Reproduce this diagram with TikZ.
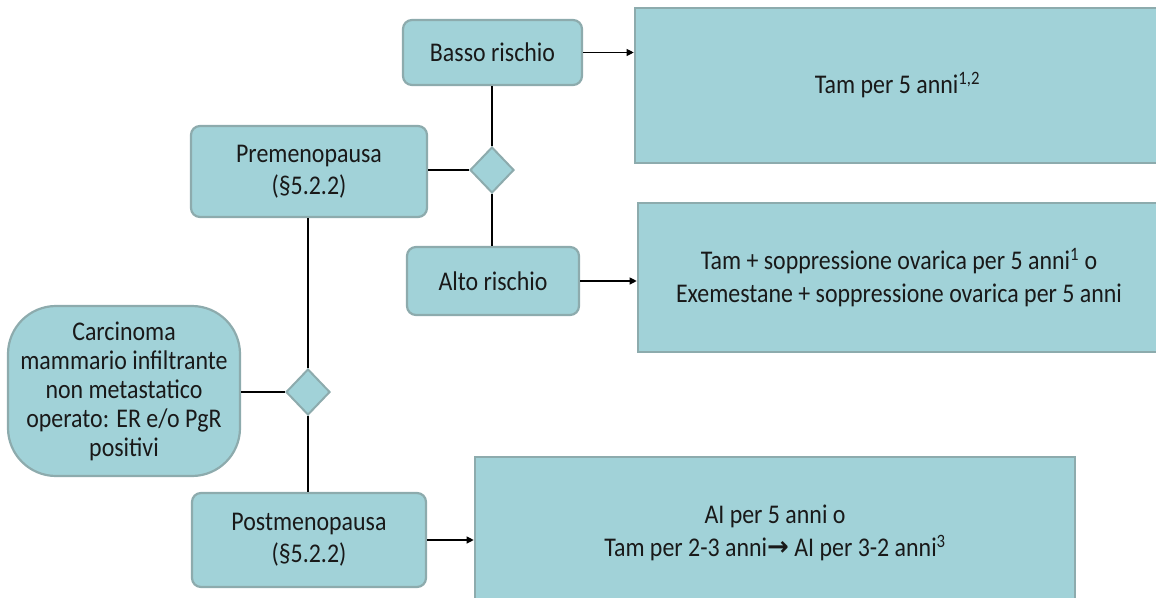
\documentclass[tikz,border=0pt]{standalone}
\usepackage{fontspec}
\setmainfont{Carlito}[FakeStretch=0.885]
\newfontfamily\dejavu{DejaVu Sans}
\usetikzlibrary{shapes.geometric,arrows.meta}
\definecolor{boxfill}{RGB}{161,210,216}
\definecolor{boxline}{RGB}{141,171,173}
\definecolor{txt}{RGB}{25,25,25}
\tikzset{
  rbox/.style={draw=boxline, fill=boxfill, line width=2.2pt, rounded corners=9pt, align=center, inner sep=0pt, text=txt, font=\fontsize{27}{32}\selectfont},
  bigbox/.style={draw=boxline, fill=boxfill, line width=2.6pt, align=center, inner sep=0pt, text=txt, font=\fontsize{27}{33}\selectfont},
  dec/.style={diamond, draw=boxline, fill=boxfill, line width=2pt, inner sep=0pt, minimum width=44pt, minimum height=46pt},
  conn/.style={line width=1.1pt, black},
  arr/.style={conn, -{Triangle[length=7pt,width=7pt]}}
}
\begin{document}
\begin{tikzpicture}[x=1pt,y=-1pt]
\useasboundingbox (0,0) rectangle (1156,597);
\clip (0,0) rectangle (1156,597);
% right-hand treatment boxes
\node[bigbox, minimum width=525pt, minimum height=155pt] (b1) at (897.5,85.5) {Tam per 5 anni\textsuperscript{1,2}};
\node[bigbox, minimum width=522pt, minimum height=149pt] (b2) at (899,277.5) {Tam + soppressione ovarica per 5 anni\textsuperscript{1} o\\Exemestane + soppressione ovarica per 5 anni};
\node[bigbox, minimum width=600pt, minimum height=152pt] (b3) at (775,533) {AI per 5 anni o\\Tam per 2-3 anni{\dejavu\bfseries\fontsize{26}{26}\selectfont\raisebox{1pt}{→}} AI per 3-2 anni\textsuperscript{3}};
% decision nodes
\node[rbox, minimum width=179pt, minimum height=65pt] (basso) at (492.5,52.5) {Basso rischio};
\node[rbox, minimum width=172pt, minimum height=68pt] (alto) at (493,281) {Alto rischio};
\node[rbox, minimum width=236pt, minimum height=91pt] (pre) at (309,171.5) {Premenopausa\\(§5.2.2)};
\node[rbox, minimum width=234pt, minimum height=94pt] (post) at (309,540) {Postmenopausa\\(§5.2.2)};
\node[rbox, rounded corners=48pt, minimum width=232pt, minimum height=170pt, font=\fontsize{27}{29}\selectfont] (carc) at (124,391) {\raisebox{0pt}[0pt][0pt]{}Carcinoma\\mammario infiltrante\\non metastatico\\operato: ER e/o PgR\\positivi};
\node[dec] (d1) at (492,170) {};
\node[dec] (d2) at (308,392) {};
% connectors
\draw[conn] (pre.east |- d1) -- (d1.west);
\draw[conn] (d1.north) -- (basso.south -| d1);
\draw[conn] (d1.south) -- (alto.north -| d1);
\draw[conn] (carc.east |- d2) -- (d2.west);
\draw[conn] (d2.north) -- (pre.south -| d2);
\draw[conn] (d2.south) -- (post.north -| d2);
\draw[arr] (basso.east) -- (b1.west |- basso);
\draw[arr] (alto.east) -- (b2.west |- alto);
\draw[arr] (post.east) -- (b3.west |- post);
\end{tikzpicture}
\end{document}
